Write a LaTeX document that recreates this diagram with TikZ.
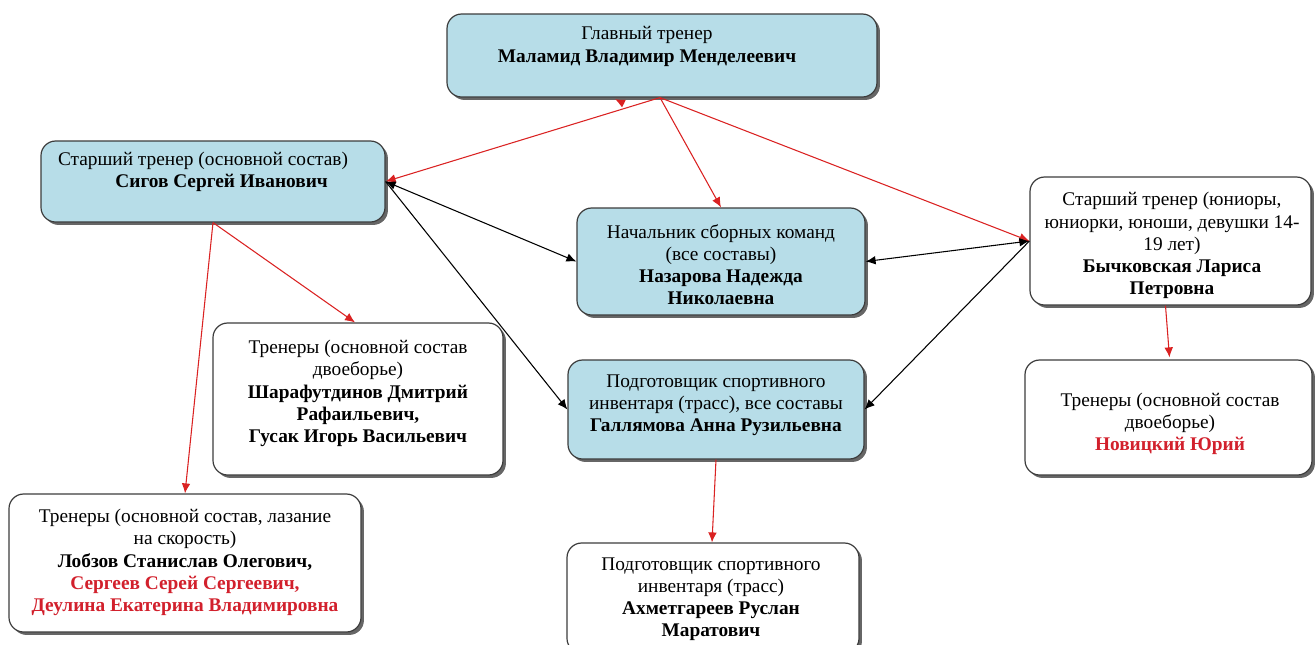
\documentclass[tikz,border=0pt]{standalone}
\usepackage{fontspec}
\setmainfont{Liberation Serif}
\usetikzlibrary{arrows.meta,shadows,calc}
\definecolor{boxblue}{RGB}{183,221,232}
\definecolor{linered}{RGB}{218,34,34}
\definecolor{txtred}{RGB}{210,32,44}
\definecolor{bordergray}{RGB}{60,60,60}
\begin{document}
\begin{tikzpicture}[x=0.75pt,y=-0.75pt,
 box/.style={draw=bordergray,line width=0.9pt,rounded corners=11pt,inner sep=0pt,
   drop shadow={shadow xshift=2.2pt,shadow yshift=-2.2pt,fill=black!60,opacity=1}},
 boxsize/.style 2 args={minimum width=#1*0.75pt,minimum height=#2*0.75pt},
 bluebox/.style={box,fill=boxblue},
 whitebox/.style={box,fill=white},
 txt/.style={align=center,font=\fontsize{14.5}{16.6}\selectfont,inner sep=0pt},
 redarrow/.style={draw=linered,line width=0.8pt,-{Latex[length=7.5pt,width=6.5pt]}},
 blackarrow/.style={draw=black,line width=0.8pt,-{Latex[length=7.5pt,width=6.5pt]}},
 blackboth/.style={draw=black,line width=0.8pt,{Latex[length=7.5pt,width=6.5pt]}-{Latex[length=7.5pt,width=6.5pt]}},
]
\useasboundingbox (0,0) rectangle (1315,644);
\clip (0,0) rectangle (1315,644);

% boxes
\node[bluebox,boxsize={430}{83}] (b1) at (662,55.5) {};
\node[bluebox,boxsize={344}{81}] (b2) at (213,181.5) {};
\node[bluebox,boxsize={288}{107}] (b3) at (721,261.5) {};
\node[whitebox,boxsize={281}{128}] (b4) at (1170.5,241) {};
\node[whitebox,boxsize={290}{152}] (b5) at (358,399) {};
\node[bluebox,boxsize={296}{99}] (b6) at (716,409.5) {};
\node[whitebox,boxsize={287}{115}] (b7) at (1168.5,417.5) {};
\node[whitebox,boxsize={352}{138}] (b8) at (185,563) {};
\node[whitebox,boxsize={292}{110}] (b9) at (713,598) {};

% texts
\node[txt] (t1) at (647,46.5) {Главный тренер\\\textbf{Маламид Владимир Менделеевич}};
\node[txt] (t2) at (203,171.5) {Старший тренер (основной состав)\\\hspace*{28pt}\textbf{Сигов Сергей Иванович}};
\node[txt] (t3) at (721,264.5) {Начальник сборных команд\\(все составы)\\\textbf{Назарова Надежда}\\\textbf{Николаевна}};
\node[txt] (t4) at (1172,245.5) {Старший тренер (юниоры,\\юниорки, юноши, девушки 14-\\19 лет)\\\textbf{Бычковская Лариса}\\\textbf{Петровна}};
\node[txt] (t5) at (358,393.5) {Тренеры (основной состав\\двоеборье)\\\textbf{Шарафутдинов Дмитрий}\\\textbf{Рафаильевич,}\\\textbf{Гусак Игорь Васильевич}};
\node[txt] (t6) at (716,405) {Подготовщик спортивного\\инвентаря (трасс), все составы\\\textbf{Галлямова Анна Рузильевна}};
\node[txt] (t7) at (1170,424) {Тренеры (основной состав\\двоеборье)\\\textcolor{txtred}{\textbf{Новицкий Юрий}}};
\node[txt] (t8) at (185,562.5) {Тренеры (основной состав, лазание\\на скорость)\\\textbf{Лобзов Станислав Олегович,}\\\textcolor{txtred}{\textbf{Сергеев Серей Сергеевич,}}\\\textcolor{txtred}{\textbf{Деулина Екатерина Владимировна}}};
\node[txt] (t9) at (711,599) {Подготовщик спортивного\\инвентаря (трасс)\\\textbf{Ахметгареев Руслан}\\\textbf{Маратович}};

% connectors
\coordinate (c1) at ($(b1.south)+(-38,6)$);
\draw[redarrow] (c1) -- ($(b1.south)+(-47,1.5)$);
\draw[redarrow] ($(b1.south)+(-2,0)$) -- (b2.east);
\draw[redarrow] ($(b1.south)+(-2,0)$) -- (b3.north);
\draw[redarrow] ($(b1.south)+(-2,0)$) -- (b4.west);
\draw[blackboth] (b2.east) -- (b3.west);
\draw[blackarrow] (b2.east) -- (b6.west);
\draw[blackboth] (b4.west) -- (b3.east);
\draw[blackarrow] (b4.west) -- (b6.east);
\draw[redarrow] (b2.south) -- ($(b5.north)+(-3,0)$);
\draw[redarrow] (b2.south) -- (b8.north);
\draw[redarrow] ($(b4.south)+(-5,0)$) -- ($(b7.north)+(1,-2)$);
\draw[redarrow] (b6.south) -- ($(b9.north)+(-1,0)$);
\end{tikzpicture}
\end{document}
